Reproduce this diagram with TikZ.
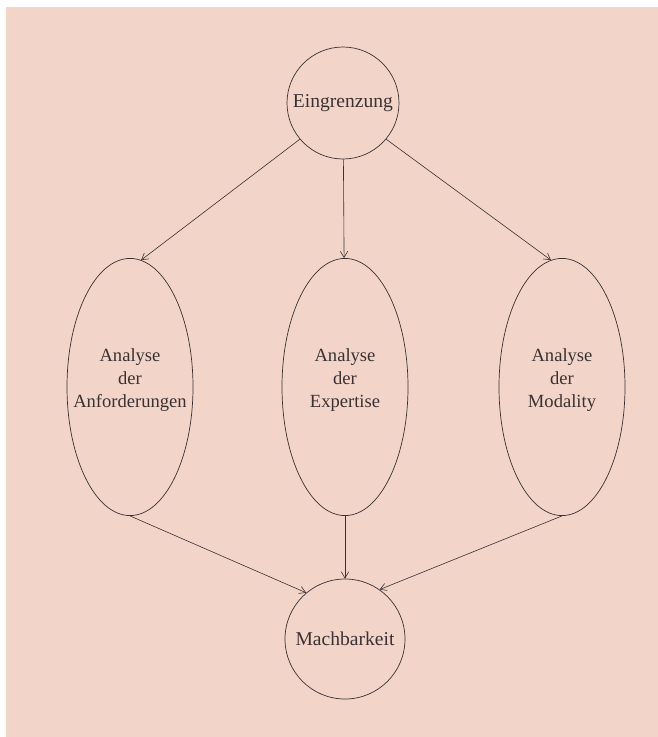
\documentclass[tikz,border=0pt]{standalone}
\usepackage{fontspec}
\setmainfont{Liberation Serif}
\usetikzlibrary{shapes.geometric,arrows.meta}
\definecolor{PAPER}{HTML}{F2D4C9}
\definecolor{INK}{HTML}{3A3232}
\tikzset{
    topic/.style={
        draw=INK, circle, line width=0.7pt, inner sep=0pt,
        text=INK, font=\fontsize{19.5}{22}\selectfont,
    },
    part/.style={
        draw=INK, ellipse, line width=0.7pt, inner ysep=0pt, inner xsep=-30pt,
        minimum width=44.1mm, minimum height=90mm, text depth=18pt,
        text=INK, align=center, font=\fontsize{18.5}{22.5}\selectfont,
    },
    flow/.style={INK, line width=0.6pt, -{Straight Barb[length=2.2mm,width=2.6mm]}},
}

\begin{document}
\begin{tikzpicture}[x=0.35mm,y=-0.35mm]
        \useasboundingbox (0,0) rectangle (658,737);
        \fill[PAPER] (6,7) rectangle (658,737); % paper

        \node[topic,minimum size=39.2mm] (EIN) at (343,103) {Eingrenzung};
        \node[part] (ANF) at (130,387) {Analyse\\der\\Anforderungen};
        \node[part] (EXP) at (345,387) {Analyse\\der\\Expertise};
        \node[part] (MOD) at (562,387) {Analyse\\der\\Modality};
        \node[topic,minimum size=42mm] (MACH) at (345,639) {Machbarkeit};

        \draw[flow] (EIN.-140) -- (ANF.85);
        \draw[flow] (EIN) -- (EXP);
        \draw[flow] (EIN.-40) -- (MOD.95);
        \draw[flow] (ANF.south) -- (MACH.130);
        \draw[flow] (EXP) -- (MACH);
        \draw[flow] (MOD.south) -- (MACH.55);
    \end{tikzpicture}
\end{document}
